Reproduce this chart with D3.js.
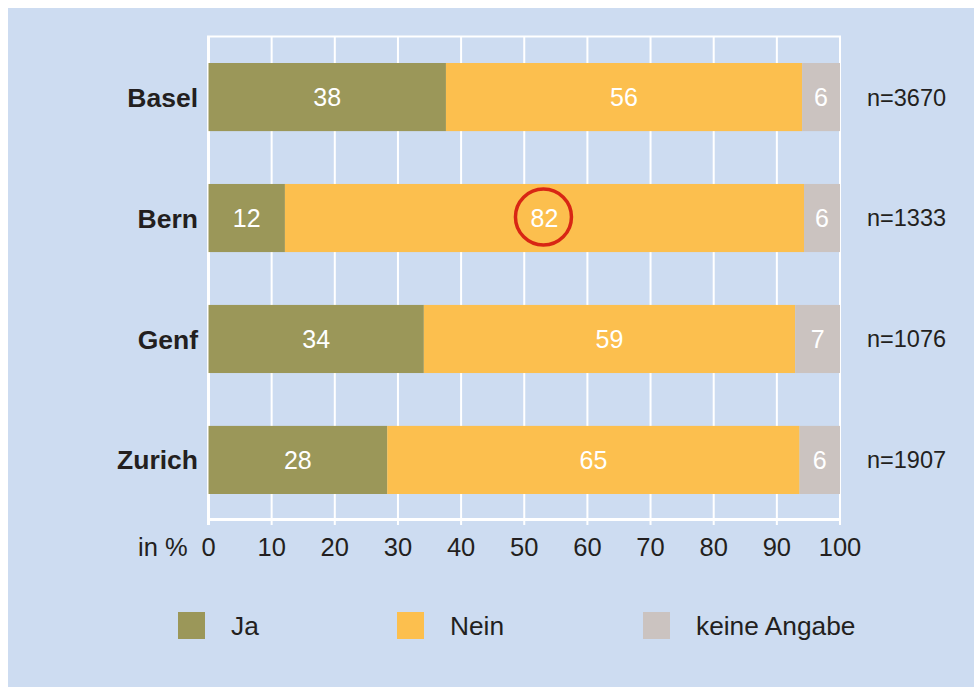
<!DOCTYPE html>
<html>
<head>
<meta charset="utf-8">
<script src="https://cdn.jsdelivr.net/npm/d3@7"></script>
<style>
  body { margin: 0; background: #fff; }
  text { font-family: "Liberation Sans", Arial, Helvetica, sans-serif; }
</style>
</head>
<body>
<div id="chart"></div>
<script>
// Daten (Balkenlaengen aus dem Bild geschaetzt, Beschriftung gerundet)
var staedte = ["Basel", "Bern", "Genf", "Zurich"];
var ja = [37.6, 12.1, 34.1, 28.3];
var nein = [56.4, 82.2, 58.8, 65.3];
var keineAngabe = [6.0, 5.7, 7.1, 6.4];
var nWerte = ["n=3670", "n=1333", "n=1076", "n=1907"];
var serien = ["Ja", "Nein", "keine Angabe"];
var farben = ["#9b9759", "#fcbf4e", "#cbc3c0"];
var ticks = [0, 10, 20, 30, 40, 50, 60, 70, 80, 90, 100];
var markiert = { stadt: "Bern", serie: "Nein" }; // roter Kreis

var width = 974, height = 687;
var svg = d3.select("#chart").append("svg")
  .attr("width", width)
  .attr("height", height);

// Hintergrund
svg.append("rect")
  .attr("x", 8).attr("y", 8)
  .attr("width", width - 8).attr("height", height - 8)
  .attr("fill", "#cddcf1");

var x = d3.scaleLinear().domain([0, 100]).range([208.5, 840]);
var y = d3.scaleBand().domain(staedte).range([37, 520])
  .paddingInner(0.437).paddingOuter(0.215);

// Gitterlinien
svg.append("g").selectAll("line")
  .data(ticks)
  .join("line")
  .attr("x1", d => x(d)).attr("x2", d => x(d))
  .attr("y1", 36).attr("y2", 525)
  .attr("stroke", "#fff")
  .attr("stroke-width", d => (d == 0 ? 3 : 2));

// Rahmen oben + Achse unten
svg.append("line")
  .attr("x1", x(0) - 1.5).attr("x2", x(100) + 1)
  .attr("y1", 36.5).attr("y2", 36.5)
  .attr("stroke", "#fff").attr("stroke-width", 2);
svg.append("line")
  .attr("x1", x(0) - 1.5).attr("x2", x(100) + 1)
  .attr("y1", 519.5).attr("y2", 519.5)
  .attr("stroke", "#fff").attr("stroke-width", 3);

// gestapelte Daten
var tabelle = staedte.map(function(s, i) {
  return { stadt: s, "Ja": ja[i], "Nein": nein[i], "keine Angabe": keineAngabe[i] };
});
var stack = d3.stack().keys(serien)(tabelle);

var gruppen = svg.append("g").selectAll("g")
  .data(stack)
  .join("g")
  .attr("fill", (d, i) => farben[i]);

gruppen.selectAll("rect")
  .data(d => d)
  .join("rect")
  .attr("x", d => x(d[0]))
  .attr("y", d => y(d.data.stadt))
  .attr("width", d => x(d[1]) - x(d[0]))
  .attr("height", y.bandwidth());

// Werte in den Balken
var labels = svg.append("g");
stack.forEach(function(serie) {
  serie.forEach(function(d) {
    labels.append("text")
      .attr("x", (x(d[0]) + x(d[1])) / 2)
      .attr("y", y(d.data.stadt) + y.bandwidth() / 2)
      .attr("dy", "0.36em")
      .attr("text-anchor", "middle")
      .attr("fill", "#fff")
      .attr("font-size", "25px")
      .text(Math.round(d[1] - d[0]));
    if (d.data.stadt == markiert.stadt && serie.key == markiert.serie) {
      svg.append("circle")
        .attr("cx", (x(d[0]) + x(d[1])) / 2 - 1)
        .attr("cy", y(d.data.stadt) + y.bandwidth() / 2 - 1)
        .attr("r", 28)
        .attr("fill", "none")
        .attr("stroke", "#d82614")
        .attr("stroke-width", 3.5);
    }
  });
});

// Kategorien links
svg.append("g").selectAll("text")
  .data(staedte)
  .join("text")
  .attr("x", 198)
  .attr("y", d => y(d) + y.bandwidth() / 2)
  .attr("dy", "0.36em")
  .attr("text-anchor", "end")
  .attr("font-weight", "bold")
  .attr("font-size", "26.5px")
  .attr("fill", "#231f20")
  .text(d => d);

// n= rechts
svg.append("g").selectAll("text")
  .data(staedte)
  .join("text")
  .attr("x", 867)
  .attr("y", d => y(d) + y.bandwidth() / 2)
  .attr("dy", "0.36em")
  .attr("font-size", "23.5px")
  .attr("fill", "#231f20")
  .text((d, i) => nWerte[i]);

// Achsenbeschriftung
svg.append("g").selectAll("text")
  .data(ticks)
  .join("text")
  .attr("x", d => x(d))
  .attr("y", 556)
  .attr("text-anchor", "middle")
  .attr("font-size", "25.5px")
  .attr("fill", "#231f20")
  .text(d => d);
svg.append("text")
  .attr("x", 138)
  .attr("y", 556)
  .attr("font-size", "25.5px")
  .attr("fill", "#231f20")
  .text("in %");

// Legende
var legX = [178, 397, 643];
var legende = svg.append("g").selectAll("g")
  .data(serien)
  .join("g")
  .attr("transform", (d, i) => "translate(" + legX[i] + ",612)");
legende.append("rect")
  .attr("width", 27).attr("height", 27)
  .attr("fill", (d, i) => farben[i]);
legende.append("text")
  .attr("x", 53)
  .attr("y", 13.5)
  .attr("dy", "0.36em")
  .attr("font-size", "26.3px")
  .attr("fill", "#231f20")
  .text(d => d);
</script>
</body>
</html>
